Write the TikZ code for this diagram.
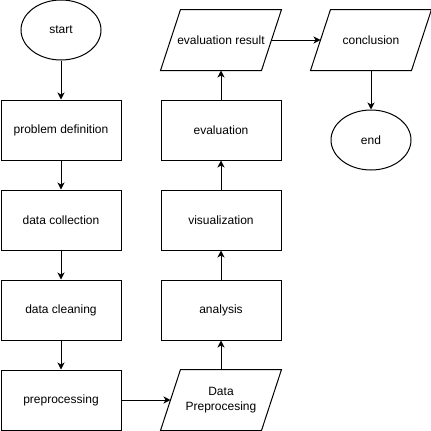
\documentclass[tikz,border=0pt]{standalone}
\usepackage{fontspec}
\setmainfont{Liberation Sans}
\usetikzlibrary{shapes.geometric,arrows.meta}
\begin{document}
\begin{tikzpicture}[x=1pt,y=-1pt,
  base/.style={font=\fontsize{12}{15}\selectfont, align=center, inner sep=0pt, line width=1pt},
  procbox/.style={base, draw, rectangle, minimum width=120pt, minimum height=60pt},
  term/.style={base, draw, ellipse, minimum width=80pt, minimum height=60pt},
  para/.style={base, rectangle, minimum width=100pt, minimum height=60pt},
  conn/.style={line width=1pt, -{Stealth[length=7pt,width=7pt,inset=2pt]}}
]
\useasboundingbox (0,0) rectangle (431,431);
\node[term] (start) at (61,30) {start};
\node[procbox] (pd) at (61,130) {problem definition};
\node[procbox] (dc) at (61,220) {data collection};
\node[procbox] (dcl) at (61,310) {data cleaning};
\node[procbox] (pre) at (61,400) {preprocessing};
\node[para] (dp) at (221,400) {Data\\Preprocesing};
\node[procbox] (an) at (221,310) {analysis};
\node[procbox] (vis) at (221,220) {visualization};
\node[procbox] (ev) at (221,130) {evaluation};
\node[para] (er) at (221,40) {evaluation result};
\node[para] (con) at (371,40) {conclusion};
\node[term] (end) at (371,140) {end};
\foreach \p in {dp,er,con}{
  \draw[line width=1pt] ([xshift=10pt]\p.north west) -- ([xshift=10pt]\p.north east)
    -- ([xshift=-10pt]\p.south east) -- ([xshift=-10pt]\p.south west) -- cycle;
}
\draw[conn] (start) -- (pd);
\draw[conn] (pd) -- (dc);
\draw[conn] (dc) -- (dcl);
\draw[conn] (dcl) -- (pre);
\draw[conn] (pre) -- (dp);
\draw[conn] (dp) -- (an);
\draw[conn] (an) -- (vis);
\draw[conn] (vis) -- (ev);
\draw[conn] (ev) -- (er);
\draw[conn] (er) -- (con);
\draw[conn] (con.south) -- (end);
\end{tikzpicture}
\end{document}
